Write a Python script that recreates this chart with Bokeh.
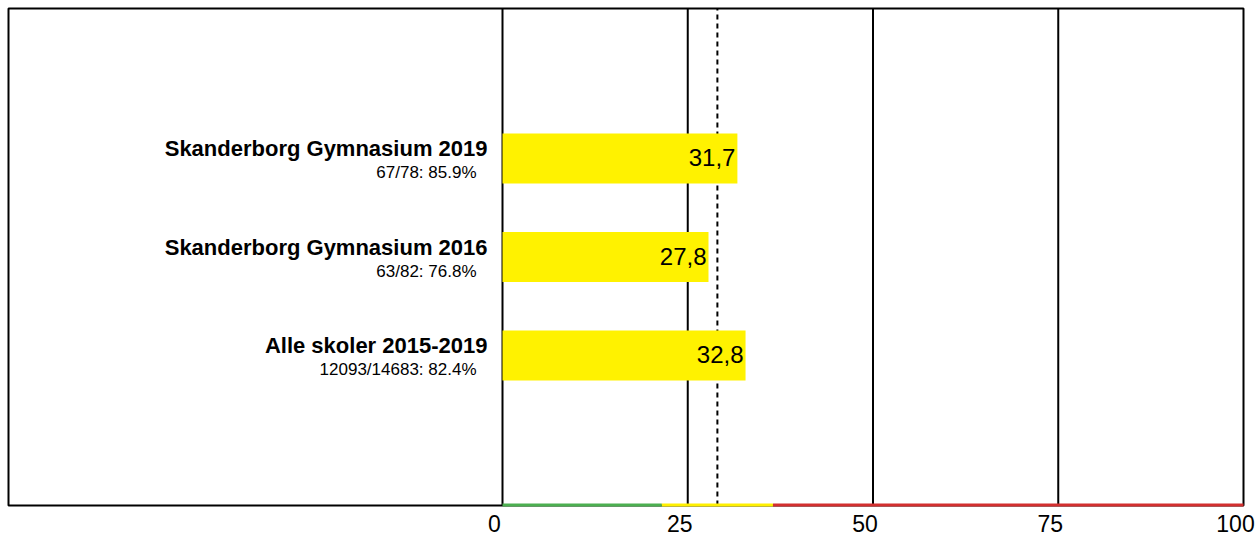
from bokeh.plotting import figure
from bokeh.models import Range1d, ColumnDataSource
from bokeh.core.properties import value
from bokeh.embed import file_html
from bokeh.resources import INLINE

# ---- data ----
categories = ["Skanderborg Gymnasium 2019", "Skanderborg Gymnasium 2016", "Alle skoler 2015-2019"]
subtitles = ["67/78: 85.9%", "63/82: 76.8%", "12093/14683: 82.4%"]
values = [31.7, 27.8, 32.8]
reference_value = 29.0
grid_values = [0, 25, 50, 75]
tick_values = [0, 25, 50, 75, 100]
tick_labels = ["0", "25", "50", "75", "100"]
zone_starts = [0, 21.5, 36.5]
zone_ends = [21.5, 36.5, 100]
zone_colors = ["#4caf50", "#fff000", "#d32f2f"]

FONT = "Liberation Sans"
W, H = 1255, 536

# layout (pixels)
box_left, box_right, box_top, box_bottom = 8, 1243, 8, 505
zero_px = 502
full_px = 1243
first_center_px = 158
row_step_px = 98.5

ppu_x = (full_px - zero_px) / 100.0
x_start = -zero_px / ppu_x
x_end = (W - zero_px) / ppu_x

n = len(categories)
ys = [n - 1 - i for i in range(n)]
top_y = n - 1
y_end = top_y + first_center_px / row_step_px
y_start = top_y - (H - first_center_px) / row_step_px

def px_to_x(px):
    return (px - zero_px) / ppu_x

def px_to_y(py):
    return top_y - (py - first_center_px) / row_step_px

bx0, bx1 = px_to_x(box_left), px_to_x(box_right)
by_top, by_bot = px_to_y(box_top), px_to_y(box_bottom)

p = figure(width=W, height=H, output_backend="svg", toolbar_location=None,
           x_range=Range1d(x_start, x_end), y_range=Range1d(y_start, y_end),
           x_axis_location=None, y_axis_location=None,
           min_border=0)
p.grid.visible = False
p.outline_line_color = None
p.background_fill_color = "white"
p.border_fill_color = "white"

# outer box
p.quad(left=[bx0], right=[bx1], top=[by_top], bottom=[by_bot],
       fill_color=None, line_color="black", line_width=2)

# vertical lines
p.segment(x0=grid_values, x1=grid_values, y0=[by_bot] * len(grid_values),
          y1=[by_top] * len(grid_values), line_color="black", line_width=2)
p.segment(x0=[reference_value], x1=[reference_value], y0=[by_bot], y1=[by_top],
          line_color="black", line_width=2, line_dash="5 4")

# bars
src = ColumnDataSource(dict(y=ys, v=values, cat=categories, sub=subtitles,
                            lab=[f"{v:.1f}".replace(".", ",") for v in values]))
p.hbar(y="y", left=0, right="v", height=50 / row_step_px, source=src,
       fill_color="#fff200", line_color=None)

p.text(x="v", y="y", text="lab", source=src, text_align="right",
       text_baseline="alphabetic", x_offset=-2, y_offset=-1,
       text_font=value(FONT), text_font_size="24px", text_color="black")

p.text(x=0, y="y", text="cat", source=src, text_align="right",
       text_baseline="alphabetic", x_offset=-15, y_offset=-10,
       text_font=value(FONT), text_font_size="22px", text_font_style="bold",
       text_color="black")
p.text(x=0, y="y", text="sub", source=src, text_align="right",
       text_baseline="alphabetic", x_offset=-26, y_offset=14,
       text_font=value(FONT), text_font_size="17px", text_color="black")

# coloured zone line along the bottom
dy = 0.5 / row_step_px
p.segment(x0=zone_starts, x1=zone_ends, y0=[by_bot + dy] * 3, y1=[by_bot + dy] * 3,
          line_color=zone_colors, line_width=3)

# tick labels
p.text(x=tick_values, y=[by_bot] * len(tick_values), text=tick_labels,
       text_align="center", text_baseline="alphabetic", x_offset=-8, y_offset=18,
       text_font=value(FONT), text_font_size="23px", text_color="black")

open("out.html", "w").write(file_html(p, INLINE))
